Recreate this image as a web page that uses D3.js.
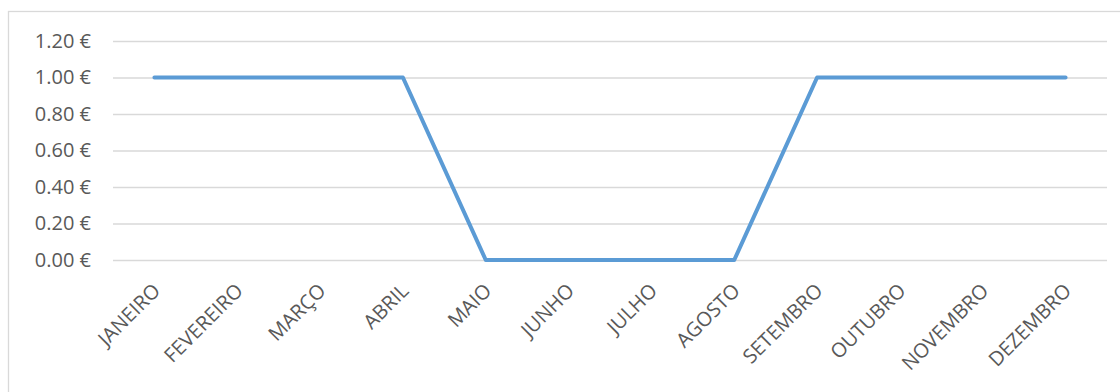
<!DOCTYPE html>
<html>
<head>
<meta charset="utf-8">
<script src="https://cdn.jsdelivr.net/npm/d3@7"></script>
<style>
  body { margin: 0; background: #fff; }
  svg text { font-family: "Open Sans", Lato, sans-serif; fill: #595959; }
</style>
</head>
<body>
<svg id="chart" width="1120" height="392"></svg>
<script>
// data
const months = ["JANEIRO", "FEVEREIRO", "MARÇO", "ABRIL", "MAIO", "JUNHO",
                "JULHO", "AGOSTO", "SETEMBRO", "OUTUBRO", "NOVEMBRO", "DEZEMBRO"];
const values = [1, 1, 1, 1, 0, 0, 0, 0, 1, 1, 1, 1];
const yTicks = [0, 0.2, 0.4, 0.6, 0.8, 1.0, 1.2];

const width = 1120;
const height = 392;
const margin = { top: 41, right: 13, bottom: 132, left: 113 };
const innerWidth = width - margin.left - margin.right;
const innerHeight = height - margin.top - margin.bottom;

const svg = d3.select("#chart");

// chart area border (right and bottom sides fall outside the picture)
svg.append("rect")
    .attr("x", 8.5).attr("y", 11.5)
    .attr("width", width).attr("height", height)
    .attr("fill", "none")
    .attr("stroke", "#d9d9d9")
    .attr("stroke-width", 1.3);

const g = svg.append("g")
    .attr("transform", `translate(${margin.left},${margin.top})`);

const x = d3.scaleBand().domain(months).range([0, innerWidth]);
const y = d3.scaleLinear().domain([0, 1.2]).range([innerHeight, 0]);

// gridlines + y labels
const yAxis = g.append("g")
    .call(d3.axisLeft(y).tickValues(yTicks).tickSize(-innerWidth).tickPadding(22)
        .tickFormat(d => d3.format(".2f")(d) + " €"));
yAxis.select(".domain").remove();
yAxis.selectAll("line").attr("stroke", "#d9d9d9").attr("stroke-width", 1.3);
yAxis.selectAll("text").style("font-size", "20px").attr("fill", "#595959");

// x labels, rotated
const xAxis = g.append("g")
    .attr("transform", `translate(0,${innerHeight})`)
    .call(d3.axisBottom(x).tickSize(0).tickPadding(0));
xAxis.select(".domain").remove();
xAxis.selectAll("text")
    .style("font-size", "20px")
    .attr("fill", "#595959")
    .attr("text-anchor", "end")
    .attr("dy", 0)
    .attr("transform", "translate(7,32) rotate(-45)");

// line
const line = d3.line()
    .x((d, i) => x(months[i]) + x.bandwidth() / 2)
    .y(d => y(d));

g.append("path")
    .datum(values)
    .attr("fill", "none")
    .attr("stroke", "#5b9bd5")
    .attr("stroke-width", 4)
    .attr("stroke-linecap", "round")
    .attr("stroke-linejoin", "round")
    .attr("d", line);
</script>
</body>
</html>
